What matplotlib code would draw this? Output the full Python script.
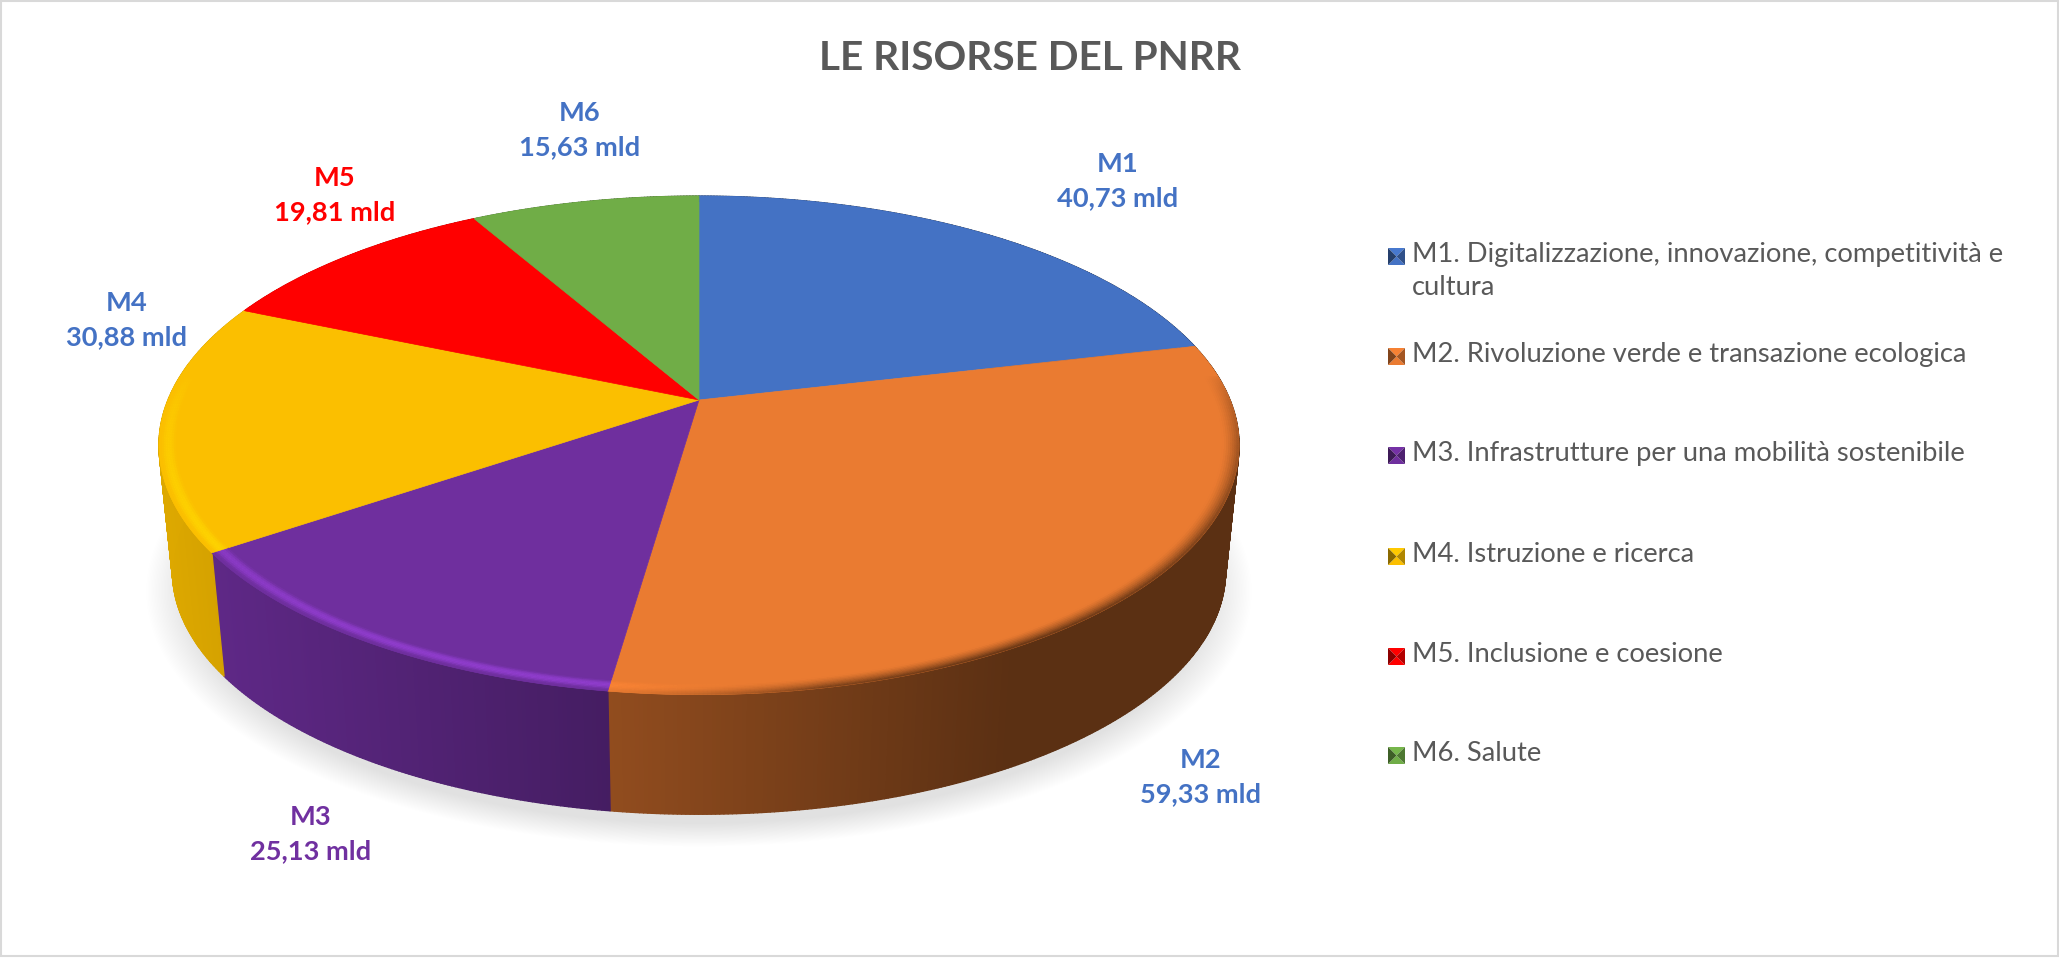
import numpy as np
import matplotlib
matplotlib.use('Agg')
import matplotlib.pyplot as plt
from matplotlib.collections import PolyCollection
from matplotlib.colors import to_rgb
from matplotlib.patches import Polygon, Rectangle

plt.rcParams['font.family'] = ['Lato', 'DejaVu Sans']

# dati del grafico
missioni = ['M1', 'M2', 'M3', 'M4', 'M5', 'M6']
valori = [40.73, 59.33, 25.13, 30.88, 19.81, 15.63]
etichette = ['40,73 mld', '59,33 mld', '25,13 mld', '30,88 mld', '19,81 mld', '15,63 mld']
legenda = [
    'M1. Digitalizzazione, innovazione, competitività e\ncultura',
    'M2. Rivoluzione verde e transazione ecologica',
    'M3. Infrastrutture per una mobilità sostenibile',
    'M4. Istruzione e ricerca',
    'M5. Inclusione e coesione',
    'M6. Salute',
]
titolo = 'LE RISORSE DEL PNRR'

colori = ['#4472C4', '#EA7B31', '#6F2F9E', '#FBBF00', '#FF0000', '#70AD47']
colori_label = ['#4472C4', '#4472C4', '#7030A0', '#4472C4', '#FF0000', '#4472C4']
luce = [1.1, 1.07, 1.3, 1.13, 1.1, 1.1]
pos_label = [(1118, 181), (1201, 777), (311, 834), (127, 320), (335, 195), (580, 130)]
pos_legenda = [256, 356, 455, 556, 656, 755]

# prospettiva della torta (pixel)
cx, cy = 699, 400
A, B, k = 531, 241, 0.182
depth, shrink = 127, 0.975


def proietta(ang, r=1.0, s=1.0, dy=0.0):
    u, v = r * np.sin(ang), r * np.cos(ang)
    w = 1 + k * v
    return cx + s * A * u / w, cy - s * B * v / w + dy


def scala(col, f):
    return np.clip(np.array(to_rgb(col)) * f, 0, 1)


def quad(a0, a1, p0, p1):
    return [(p0[0][i], p0[1][i]) for i in a0] + [(p1[0][i], p1[1][i]) for i in a1]


fig = plt.figure(figsize=(20.59, 9.63), dpi=100)
ax = fig.add_axes([0, 0, 1, 1])
ax.set_xlim(0, 2059)
ax.set_ylim(963, 0)
ax.axis('off')

ax.add_patch(Rectangle((1, 1), 2057, 955, fc='white', ec='#d9d9d9', lw=1.5))

# ombra sotto la torta
tt = np.linspace(0, 2 * np.pi, 361)
for i in range(30):
    s = 1.05 - 0.08 * i / 29
    x, y = proietta(tt, s=s * shrink, dy=depth + 18)
    ax.add_patch(Polygon(np.c_[x, y], fc='black', ec='none', alpha=0.005, zorder=1))

quota = np.cumsum([0] + valori) / sum(valori) * 2 * np.pi

# parete laterale
verts, cols = [], []
for i, col in enumerate(colori):
    n = max(int((quota[i + 1] - quota[i]) * 150), 4)
    aa = np.linspace(quota[i], quota[i + 1], n + 1)
    top = proietta(aa)
    bot = proietta(aa, s=shrink, dy=depth)
    for j in range(n):
        verts.append(quad([j, j + 1], [j + 1, j], top, bot))
        f = (top[0][j] - 159) / 1079
        cols.append(scala(col, max(0.39, 0.88 - 0.62 * f)))
ax.add_collection(PolyCollection(verts, facecolors=cols, edgecolors=cols, linewidths=1.0, zorder=2))

# faccia superiore
for i, col in enumerate(colori):
    aa = np.linspace(quota[i], quota[i + 1], 200)
    x, y = proietta(aa)
    ax.add_patch(Polygon(np.r_[[(cx, cy)], np.c_[x, y]], fc=col, ec=col, lw=0.5, zorder=3))

# bordo smussato
anelli = np.linspace(0.97, 1.0, 9)
verts, cols = [], []
for i, col in enumerate(colori):
    n = max(int((quota[i + 1] - quota[i]) * 150), 4)
    aa = np.linspace(quota[i], quota[i + 1], n + 1)
    for q in range(len(anelli) - 1):
        t = (q + 0.5) / (len(anelli) - 1)
        p0 = proietta(aa, r=anelli[q])
        p1 = proietta(aa, r=anelli[q + 1])
        for j in range(n):
            am = (aa[j] + aa[j + 1]) / 2
            st = np.clip(0.1 - np.cos(am), 0, 1) ** 0.5
            f = (p1[0][j] - 159) / 1079
            g = np.clip((f - 0.42) / 0.2, 0, 1)
            base = np.array(to_rgb(col))
            lit = scala(col, luce[i])
            dark = scala(col, max(0.39, 0.88 - 0.62 * f))
            c1 = base + (lit - base) * st * np.sin(np.pi * min(t * 1.15, 1))
            c2 = base + (dark - base) * st * t ** 1.5
            verts.append(quad([j, j + 1], [j + 1, j], p0, p1))
            cols.append((1 - g) * c1 + g * c2)
ax.add_collection(PolyCollection(verts, facecolors=cols, edgecolors=cols, linewidths=0.3, zorder=4))

# etichette dati
for m, et, c, (px, py) in zip(missioni, etichette, colori_label, pos_label):
    ax.text(px, py, m + '\n' + et, color=c, fontsize=19.6, fontweight='bold', ha='center', va='center',
            linespacing=1.5, zorder=6)

ax.text(1030, 58, titolo, color='#595959', fontsize=29.2, fontweight='bold', ha='center', va='center')

# legenda
for nome, col, py in zip(legenda, colori, pos_legenda):
    x0, x1, y0, y1 = 1388, 1405, py - 8, py + 9
    xm, ym = (x0 + x1) / 2, (y0 + y1) / 2
    ax.add_patch(Polygon([(x0, y0), (x1, y0), (xm, ym)], fc=scala(col, 1.05), ec='none', zorder=5))
    ax.add_patch(Polygon([(x0, y1), (x1, y1), (xm, ym)], fc=scala(col, 1.0), ec='none', zorder=5))
    ax.add_patch(Polygon([(x0, y0), (x0, y1), (xm, ym)], fc=scala(col, 0.55), ec='none', zorder=5))
    ax.add_patch(Polygon([(x1, y0), (x1, y1), (xm, ym)], fc=scala(col, 0.7), ec='none', zorder=5))
    ax.text(1412, py - 14, nome, color='#595959', fontsize=19.7, ha='left', va='top', linespacing=1.42)

fig.savefig('out.png', dpi=100, facecolor='white')
